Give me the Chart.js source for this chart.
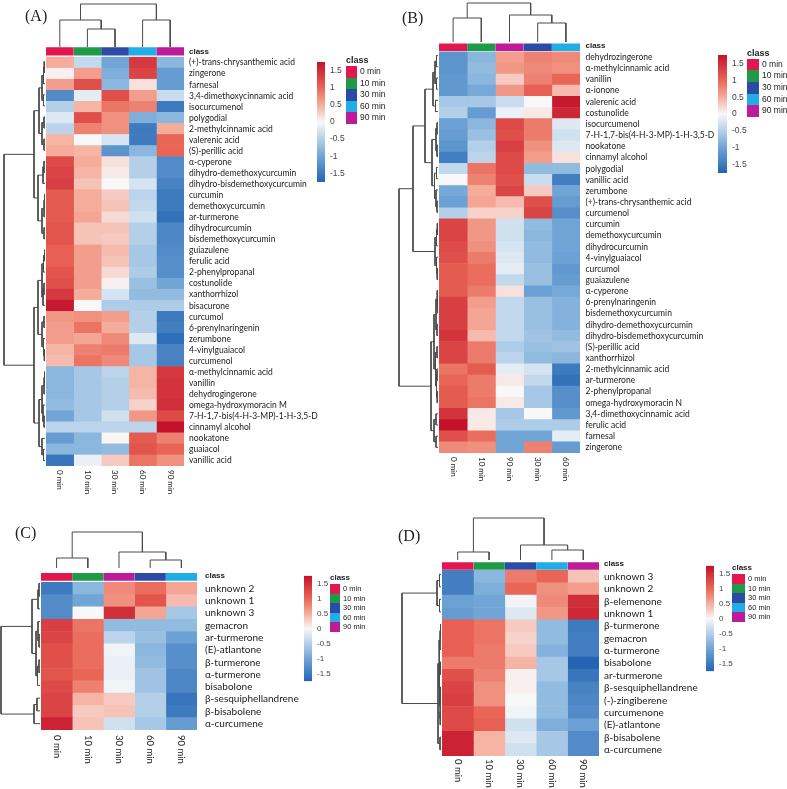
<!DOCTYPE html>
<html>
<head>
<meta charset="utf-8">
<script src="https://cdn.jsdelivr.net/npm/chart.js@4.4.1/dist/chart.umd.min.js"></script>
<style>
  body { margin: 0; background: #fff; }
  #fig { position: relative; width: 787px; height: 789px; overflow: hidden; font-family: "Liberation Sans", Arial, sans-serif; }
  #fig canvas { position: absolute; }
  .tag { position: absolute; font-family: "Liberation Serif", "Times New Roman", serif; font-size: 16px; line-height: 16px; color: #222; }
  .leg { position: absolute; color: #222; white-space: nowrap; }
  .leg span { display: inline-block; vertical-align: top; }
</style>
</head>
<body>
<div id="fig"></div>
<script>
// class colours used by every panel
const classNames = ['0 min', '10 min', '30 min', '60 min', '90 min'];
const classColors = ['#E2174F', '#1F9A47', '#2C4BA6', '#21AEE6', '#BE1B9B'];
const cbarTicks = [-1.5, -1, -0.5, 0, 0.5, 1, 1.5];

// ---- panel A ----
const colsA = ['0 min', '10 min', '30 min', '60 min', '90 min'];
const classA = [0, 1, 2, 3, 4];
const rowsA = ['(+)-trans-chrysanthemic acid', 'zingerone', 'farnesal', '3,4-dimethoxycinnamic acid', 'isocurcumenol',
  'polygodial', '2-methylcinnamic acid', 'valerenic acid', '(S)-perillic acid', 'α-cyperone', 'dihydro-demethoxycurcumin',
  'dihydro-bisdemethoxycurcumin', 'curcumin', 'demethoxycurcumin', 'ar-turmerone', 'dihydrocurcumin', 'bisdemethoxycurcumin',
  'guiazulene', 'ferulic acid', '2-phenylpropanal', 'costunolide', 'xanthorrhizol', 'bisacurone', 'curcumol',
  '6-prenylnaringenin', 'zerumbone', '4-vinylguaiacol', 'curcumenol', 'α-methylcinnamic acid', 'vanillin',
  'dehydrogingerone', 'omega-hydroxymoracin M', '7-H-1,7-bis(4-H-3-MP)-1-H-3,5-D', 'cinnamyl alcohol', 'nookatone',
  'guaiacol', 'vanillic acid'];
const valsA = [
  [0.5, -0.4, -1.0, 1.4, -0.8], [0.05, 0.6, -0.9, 1.3, -1.1], [0.6, 1.2, -0.8, 0.15, -1.1],
  [-1.3, -0.15, 1.2, 0.6, -0.35], [-0.5, 0.45, 0.9, 0.8, -1.5], [-0.2, 1.2, 0.7, -0.9, -0.8],
  [-0.45, 0.8, 0.7, -1.5, 0.5], [0.45, 0.0, -0.25, -1.5, 1.0], [0.5, 0.45, -1.2, -0.8, 1.0],
  [1.25, 0.5, 0.15, -0.5, -1.3], [1.3, 0.45, 0.1, -0.5, -1.3], [1.35, 0.35, 0.0, -0.25, -1.4],
  [1.1, 0.5, 0.3, -0.45, -1.5], [1.1, 0.5, 0.35, -0.4, -1.5], [1.1, 0.55, 0.2, -0.3, -1.6],
  [1.15, 0.35, 0.35, -0.5, -1.35], [1.15, 0.35, 0.3, -0.5, -1.35], [1.05, 0.6, 0.4, -0.6, -1.3],
  [1.05, 0.6, 0.35, -0.6, -1.25], [1.15, 0.6, 0.2, -0.55, -1.25], [1.2, 0.6, 0.05, -0.7, -1.0],
  [1.4, 0.5, -0.25, -0.75, -0.75], [1.7, 0.0, -0.55, -0.55, -0.55], [0.65, 0.7, 0.6, -0.5, -1.5],
  [0.6, 0.9, 0.5, -0.5, -1.45], [0.6, 0.55, 0.75, -0.2, -1.65], [0.45, 0.8, 0.85, -0.6, -1.4],
  [0.4, 0.9, 0.75, -0.6, -1.4], [-0.8, -0.6, -0.45, 0.45, 1.4], [-0.8, -0.6, -0.5, 0.45, 1.45],
  [-0.8, -0.6, -0.5, 0.4, 1.45], [-0.75, -0.6, -0.5, 0.25, 1.5], [-1.0, -0.6, -0.3, 0.65, 1.25],
  [-0.45, -0.45, -0.45, -0.45, 1.75], [-1.1, -0.8, 0.02, 1.1, 0.8], [-0.8, -0.8, -0.75, 1.15, 1.0],
  [-1.55, -0.1, 0.3, 0.9, 0.7]];
// dendrograms: [height, left, right], leaves are row / column indices
const colTreeA = [43, [27, 0, [18, 1, 2]], [27, 3, 4]];
const rowTreeA = [41,
  [11,
    [6, [3, [1.5, [0.8, 0, 1], 2], [1.5, 3, 4]], [3, [1, 5, 6], [1, 7, 8]]],
    [7, [2, [1, 9, 10], 11], [3, [1, [0.5, 12, 13], 14], [1, 15, 16]]]],
  [11,
    [7, [3, [1.5, [0.5, 17, 18], 19], [2, [1, 20, 21], 22]], [3, [1, 23, 24], [1.5, 25, [0.7, 26, 27]]]],
    [6, [3, [1, [0.5, 28, 29], 30], [2, 31, [1, 32, 33]]], [3, 34, [1.5, 35, 36]]]]];

// ---- panel B ----
const colsB = ['0 min', '10 min', '90 min', '30 min', '60 min'];
const classB = [0, 1, 4, 2, 3];
const rowsB = ['dehydrozingerone', 'α-methylcinnamic acid', 'vanillin', 'α-ionone', 'valerenic acid', 'costunolide',
  'isocurcumenol', '7-H-1,7-bis(4-H-3-MP)-1-H-3,5-D', 'nookatone', 'cinnamyl alcohol', 'polygodial', 'vanillic acid',
  'zerumbone', '(+)-trans-chrysanthemic acid', 'curcumenol', 'curcumin', 'demethoxycurcumin', 'dihydrocurcumin',
  '4-vinylguaiacol', 'curcumol', 'guaiazulene', 'α-cyperone', '6-prenylnaringenin', 'bisdemethoxycurcumin',
  'dihydro-demethoxycurcumin', 'dihydro-bisdemethoxycurcumin', '(S)-perillic acid', 'xanthorrhizol',
  '2-methylcinnamic acid', 'ar-turmerone', '2-phenylpropanal', 'omega-hydroxymoracin N', '3,4-dimethoxycinnamic acid',
  'ferulic acid', 'farnesal', 'zingerone'];
const valsB = [
  [-1.2, -0.8, 0.6, 0.8, 0.75], [-1.2, -0.75, 0.65, 0.75, 0.7], [-1.15, -0.8, 0.3, 0.8, 1.0],
  [-1.15, -0.95, 0.65, 1.05, 0.4], [-0.6, -0.6, -0.35, 0.0, 1.7], [-0.5, -1.1, -0.1, 0.1, 1.55],
  [-1.05, -0.8, 1.25, 0.85, -0.2], [-1.1, -0.7, 1.2, 0.85, -0.3], [-1.2, -0.5, 1.35, 0.7, -0.2],
  [-1.45, -0.45, 1.25, 0.6, 0.15], [-0.4, 0.9, 1.25, -0.75, -0.75], [0.0, 0.8, 1.2, -0.35, -1.45],
  [-0.95, 0.5, 1.3, 0.3, -1.0], [-1.05, 0.55, 0.4, 1.2, -1.1], [-0.5, 0.25, 0.25, 1.3, -1.25],
  [1.3, 0.65, -0.3, -0.75, -1.0], [1.3, 0.65, -0.3, -0.8, -1.0], [1.25, 0.7, -0.25, -0.75, -1.0],
  [1.2, 0.85, -0.2, -0.75, -1.05], [1.1, 0.95, -0.15, -0.7, -1.15], [1.1, 0.95, -0.4, -0.7, -1.1],
  [1.1, 0.85, 0.15, -1.05, -0.95], [1.35, 0.6, -0.4, -0.7, -0.85], [1.35, 0.55, -0.4, -0.7, -0.85],
  [1.35, 0.55, -0.4, -0.7, -0.85], [1.45, 0.4, -0.4, -0.65, -0.75], [1.3, 0.85, -0.55, -0.7, -0.65],
  [1.3, 0.85, -0.45, -0.75, -0.8], [0.9, 1.1, -0.15, -0.25, -1.5], [1.0, 0.85, 0.1, -0.4, -1.6],
  [1.1, 0.85, 0.0, -0.6, -1.25], [1.1, 0.9, 0.1, -0.6, -1.25], [1.45, 0.1, -0.6, 0.0, -1.15],
  [1.75, 0.1, -0.55, -0.55, -0.55], [1.2, 0.95, -1.0, -1.0, -0.15], [0.75, 0.7, -1.0, 0.8, -1.1]];
const colTreeB = [39, [24, 0, 1], [27, 2, [19, 3, 4]]];
const rowTreeB = [39,
  [25,
    [13, [5, [3, [1.5, 0, 1], [1.5, 2, 3]], [2.5, 4, 5]],
      [6, [2, [1, 6, 7], [1, 8, 9]], [3.5, [1.5, 10, 11], [2, 12, [1, 13, 14]]]]],
    [3, [1.5, [0.7, 15, 16], 17], [1.5, 18, [0.8, 19, 20]]]],
  [7,
    [4, [2, [1, 21, [0.5, 22, 23]], [1, 24, 25]], [2.5, [1, 26, 27], [1.5, [1, 28, 29], [0.8, 30, 31]]]],
    [4, [2, 32, 33], [2, 34, 35]]]];

// ---- panel C ----
const colsC = ['0 min', '10 min', '30 min', '60 min', '90 min'];
const classC = [0, 1, 4, 2, 3];
const rowsC = ['unknown 2', 'unknown 1', 'unknown 3', 'gemacron', 'ar-turmerone', '(E)-atlantone', 'β-turmerone',
  'α-turmerone', 'bisabolone', 'β-sesquiphellandrene', 'β-bisabolene', 'α-curcumene'];
const valsC = [
  [-1.5, -0.8, 0.75, 0.95, 0.55], [-1.3, -1.0, 0.7, 1.15, 0.4], [-1.3, 0.0, 1.5, 0.55, -0.6],
  [1.35, 0.9, -0.75, -0.75, -0.75], [1.3, 0.95, -0.45, -0.7, -1.05], [1.2, 0.95, -0.05, -0.8, -1.25],
  [1.2, 0.95, -0.1, -0.75, -1.25], [1.15, 1.0, -0.1, -0.65, -1.35], [1.25, 0.8, -0.05, -0.65, -1.35],
  [1.3, 0.45, 0.3, -0.5, -1.55], [1.3, 0.3, 0.35, -0.5, -1.5], [1.6, 0.35, -0.3, -0.6, -1.1]];
const colTreeC = [36, [10, 0, 1], [16, 2, [8, 3, 4]]];
const rowTreeC = [39, [8, [2, [1, 0, 1], 2], [4, [2, 3, [1, 4, 5]], [2.5, [1, 6, 7], 8]]], [6, [3, 9, 10], 11]];

// ---- panel D ----
const colsD = ['0 min', '10 min', '30 min', '60 min', '90 min'];
const classD = [0, 1, 2, 3, 4];
const rowsD = ['unknown 3', 'unknown 2', 'β-elemenone', 'unknown 1', 'β-turmerone', 'gemacron', 'α-turmerone',
  'bisabolone', 'ar-turmerone', 'β-sesquiphellandrene', '(-)-zingiberene', 'curcumenone', '(E)-atlantone',
  'β-bisabolene', 'α-curcumene'];
const valsD = [
  [-1.45, -0.8, 0.85, 1.0, 0.35], [-1.45, -0.9, 1.0, 0.7, 0.6], [-1.05, -1.0, -0.05, 0.75, 1.5],
  [-1.1, -1.0, -0.2, 0.65, 1.55], [1.05, 0.9, 0.3, -0.75, -1.5], [1.05, 0.9, 0.25, -0.75, -1.45],
  [1.05, 0.85, 0.3, -0.85, -1.45], [0.85, 0.85, 0.45, -0.6, -1.75], [1.2, 0.8, 0.05, -0.6, -1.55],
  [1.3, 0.7, 0.05, -0.75, -1.4], [1.35, 0.7, 0.0, -0.75, -1.35], [1.25, 1.0, -0.05, -0.75, -1.3],
  [1.25, 1.05, -0.3, -0.9, -1.05], [1.6, 0.45, -0.2, -0.6, -1.3], [1.6, 0.45, -0.3, -0.6, -1.3]];
const colTreeD = [42, [8, 0, 1], [15, 2, [10, 3, 4]]];
const rowTreeD = [39, [4, [1.5, 0, 1], [1.5, 2, 3]],
  [3, [2, [1, [0.5, 4, 5], 6], [1.5, [0.7, 7, 8], [1, [0.5, 9, 10], [0.8, 11, 12]]]], [1, 13, 14]]];

// colour ramp of the heatmaps (blue - white - red)
const rampStops = [
  [-1.75, [36, 100, 178]],
  [-1.0, [112, 165, 214]],
  [-0.5, [180, 208, 233]],
  [0, [248, 248, 248]],
  [0.5, [245, 172, 155]],
  [1.0, [233, 102, 86]],
  [1.75, [196, 18, 43]]
];

const panels = [
  { tag: '(A)', tagX: 25, tagY: 8, cols: colsA, cls: classA, rows: rowsA, vals: valsA, rowTree: rowTreeA, colTree: colTreeA,
    left: 46, right: 184, top: 56, bottom: 466, font: 8.5, colFont: 8, colGap: 4, labW: 205, labPad: 5, barH: 7.5, gap: 2, classFont: 8,
    cbar: { x: 317, w: 8, y15: 68, yn15: 176, font: 8.5 },
    leg: { x: 346, titleTop: 55, swTop: 66, sw: 11.6, w: 11, font: 8.5, titleFont: 9 } },
  { tag: '(B)', tagX: 402, tagY: 10, cols: colsB, cls: classB, rows: rowsB, vals: valsB, rowTree: rowTreeB, colTree: colTreeB,
    left: 439, right: 580, top: 50, bottom: 453, font: 8.5, colFont: 8, colGap: 4, labW: 200, labPad: 5.5, barH: 7, gap: 1, classFont: 8,
    cbar: { x: 718, w: 9, y15: 61, yn15: 167, font: 8.5 },
    leg: { x: 747, titleTop: 48, swTop: 58.5, sw: 11.7, w: 12, font: 8.5, titleFont: 9 } },
  { tag: '(C)', tagX: 15, tagY: 525, cols: colsC, cls: classC, rows: rowsC, vals: valsC, rowTree: rowTreeC, colTree: colTreeC,
    left: 41, right: 197, top: 577, bottom: 730, font: 10, colFont: 9.5, colGap: 5, labW: 150, labPad: 8, barH: 7.5, gap: 2, classFont: 8,
    cbar: { x: 304, w: 8, y15: 581, yn15: 676, font: 8 },
    leg: { x: 330, titleTop: 573, swTop: 584, sw: 9.6, w: 10, font: 7.5, titleFont: 8 } },
  { tag: '(D)', tagX: 398, tagY: 528, cols: colsD, cls: classD, rows: rowsD, vals: valsD, rowTree: rowTreeD, colTree: colTreeD,
    left: 442, right: 599, top: 568, bottom: 756, font: 10, colFont: 9.5, colGap: 3, labW: 150, labPad: 5, barH: 7, gap: 1, classFont: 8,
    cbar: { x: 706, w: 8, y15: 571, yn15: 666, font: 8 },
    leg: { x: 732, titleTop: 563, swTop: 574, sw: 9.6, w: 13, font: 7.5, titleFont: 8 } }
];

const fig = document.getElementById('fig');
const labelFamily = 'Lato, "Open Sans", sans-serif';

function rgb(c) {
  return `rgb(${c.map(Math.round).join(',')})`;
}

function colorFor(v) {
  const s = rampStops;
  if (v <= s[0][0]) return rgb(s[0][1]);
  for (let i = 1; i < s.length; i++) {
    if (v <= s[i][0]) {
      const t = (v - s[i - 1][0]) / (s[i][0] - s[i - 1][0]);
      const a = s[i - 1][1], b = s[i][1];
      return rgb(a.map((c, k) => c + (b[k] - c) * t));
    }
  }
  return rgb(s[s.length - 1][1]);
}

function addCanvas(x, y, w, h) {
  const cv = document.createElement('canvas');
  cv.width = w;
  cv.height = h;
  cv.style.left = x + 'px';
  cv.style.top = y + 'px';
  cv.style.width = w + 'px';
  cv.style.height = h + 'px';
  fig.appendChild(cv);
  return cv;
}

function treeSegments(node, out) {
  if (typeof node === 'number') return { pos: node + 0.5, h: 0 };
  const [h, a, b] = node;
  const l = treeSegments(a, out);
  const r = treeSegments(b, out);
  out.push({ l, r, h });
  return { pos: (l.pos + r.pos) / 2, h };
}

function dendrogram(canvas, tree, onTop, count) {
  const segs = [];
  treeSegments(tree, segs);
  const datasets = segs.map(s => ({
    data: onTop
      ? [{ x: s.l.pos, y: s.l.h }, { x: s.l.pos, y: s.h }, { x: s.r.pos, y: s.h }, { x: s.r.pos, y: s.r.h }]
      : [{ x: -s.l.h, y: s.l.pos }, { x: -s.h, y: s.l.pos }, { x: -s.h, y: s.r.pos }, { x: -s.r.h, y: s.r.pos }],
    showLine: true,
    borderColor: '#4a4a4a',
    borderWidth: 1,
    pointRadius: 0,
    clip: false
  }));
  const w = canvas.width, h = canvas.height;
  new Chart(canvas, {
    type: 'scatter',
    data: { datasets },
    options: {
      responsive: false, animation: false, events: [],
      layout: { padding: 0 },
      plugins: { legend: { display: false }, tooltip: { enabled: false } },
      scales: onTop
        ? { x: { type: 'linear', display: false, min: 0, max: count },
            y: { type: 'linear', display: false, min: 0, max: h } }
        : { x: { type: 'linear', display: false, min: -(w - 1), max: 1 },
            y: { type: 'linear', display: false, min: 0, max: count, reverse: true } }
    }
  });
}

function heatmap(p) {
  const n = p.rows.length;
  const rowH = (p.bottom - p.top) / n;
  const areaTop = p.top - rowH;
  const cTop = Math.floor(areaTop - 8);
  const padTop = areaTop - cTop;
  const H = Math.ceil(p.bottom - cTop + 48);
  const padBottom = H - (p.bottom - cTop);
  const cellW = p.right - p.left;
  const cv = addCanvas(p.left, cTop, cellW + p.labW, H);
  const labels = ['class', ...p.rows];
  const topBorder = rowH - p.barH - p.gap;

  const colLabels = {
    id: 'colLabels',
    afterDraw(chart) {
      const { ctx, chartArea, scales } = chart;
      ctx.save();
      ctx.fillStyle = '#1a1a1a';
      ctx.font = `${p.colFont}px ${labelFamily}`;
      ctx.textAlign = 'left';
      ctx.textBaseline = 'middle';
      p.cols.forEach((t, j) => {
        ctx.save();
        ctx.translate(scales.x.getPixelForValue(j + 0.5), chartArea.bottom + p.colGap);
        ctx.rotate(Math.PI / 2);
        ctx.fillText(t, 0, 0);
        ctx.restore();
      });
      ctx.restore();
    }
  };

  new Chart(cv, {
    type: 'bar',
    data: {
      labels,
      datasets: p.cols.map((c, j) => ({
        label: c,
        data: labels.map(() => 1),
        backgroundColor: [classColors[p.cls[j]], ...p.vals.map(r => colorFor(r[j]))],
        borderColor: '#ffffff',
        borderWidth: ctx => ctx.dataIndex === 0 ? { top: topBorder, bottom: p.gap, left: 0, right: 0 } : 0,
        borderSkipped: false,
        barPercentage: 1,
        categoryPercentage: 1
      }))
    },
    options: {
      indexAxis: 'y',
      responsive: false, animation: false, events: [],
      layout: { padding: { top: padTop, bottom: padBottom, left: 0, right: 0 } },
      plugins: { legend: { display: false }, tooltip: { enabled: false } },
      scales: {
        x: { stacked: true, display: false, min: 0, max: p.cols.length },
        y: {
          stacked: true,
          position: 'right',
          grid: { display: false, drawTicks: false },
          border: { display: false },
          ticks: {
            autoSkip: false,
            padding: p.labPad,
            color: '#1a1a1a',
            font: ctx => ctx.index === 0
              ? { family: '"Liberation Sans", Arial, sans-serif', size: p.classFont, weight: 'bold' }
              : { family: labelFamily, size: p.font }
          },
          afterFit: s => { s.width = p.labW; }
        }
      }
    },
    plugins: [colLabels]
  });

  // column dendrogram sits on the class bar
  const barTop = p.top - p.barH - p.gap;
  const dH = p.colTree[0] + 3;
  dendrogram(addCanvas(p.left, Math.round(barTop - dH), cellW, dH), p.colTree, true, p.cols.length);

  // row dendrogram on the left of the cells
  const dW = p.rowTree[0] + 4;
  dendrogram(addCanvas(p.left - dW, p.top, dW, p.bottom - p.top), p.rowTree, false, n);
}

function colorbar(c) {
  const unit = (c.yn15 - c.y15) / 3;
  const top = c.y15 - 0.25 * unit;
  const bottom = c.yn15 + 0.25 * unit;
  const cTop = Math.floor(top) - 7;
  const H = Math.ceil(bottom - cTop + 7);
  const labW = 28;
  const cv = addCanvas(c.x, cTop, c.w + labW, H);
  new Chart(cv, {
    type: 'bar',
    data: {
      labels: [''],
      datasets: [{
        data: [[-1.75, 1.75]],
        borderWidth: 0,
        barPercentage: 1,
        categoryPercentage: 1,
        backgroundColor: ctx => {
          const area = ctx.chart.chartArea;
          if (!area) return 'transparent';
          const g = ctx.chart.ctx.createLinearGradient(0, area.bottom, 0, area.top);
          rampStops.forEach(([v, col]) => g.addColorStop((v + 1.75) / 3.5, rgb(col)));
          return g;
        }
      }]
    },
    options: {
      responsive: false, animation: false, events: [],
      layout: { padding: { top: top - cTop, bottom: H - (bottom - cTop), left: 0, right: 0 } },
      plugins: { legend: { display: false }, tooltip: { enabled: false } },
      scales: {
        x: { display: false },
        y: {
          position: 'right', min: -1.75, max: 1.75,
          grid: { display: false, drawTicks: false },
          border: { display: false },
          afterBuildTicks: s => { s.ticks = cbarTicks.map(v => ({ value: v })); },
          afterFit: s => { s.width = labW; },
          ticks: {
            padding: 5, color: '#444',
            font: { family: '"Liberation Sans", Arial, sans-serif', size: c.font },
            callback: v => String(v)
          }
        }
      }
    }
  });
}

function classLegend(l) {
  const title = document.createElement('div');
  title.className = 'leg';
  title.style.left = l.x + 'px';
  title.style.top = l.titleTop + 'px';
  title.style.fontSize = l.titleFont + 'px';
  title.style.fontWeight = 'bold';
  title.textContent = 'class';
  fig.appendChild(title);
  classNames.forEach((name, i) => {
    const row = document.createElement('div');
    row.className = 'leg';
    row.style.left = l.x + 'px';
    row.style.top = (l.swTop + i * l.sw) + 'px';
    row.style.fontSize = l.font + 'px';
    row.style.lineHeight = l.sw + 'px';
    row.innerHTML = `<span style="width:${l.w}px;height:${l.sw}px;background:${classColors[i]};margin-right:3px"></span>${name}`;
    fig.appendChild(row);
  });
}

panels.forEach(p => {
  heatmap(p);
  colorbar(p.cbar);
  classLegend(p.leg);
  const tag = document.createElement('div');
  tag.className = 'tag';
  tag.style.left = p.tagX + 'px';
  tag.style.top = p.tagY + 'px';
  tag.textContent = p.tag;
  fig.appendChild(tag);
});
</script>
</body>
</html>
